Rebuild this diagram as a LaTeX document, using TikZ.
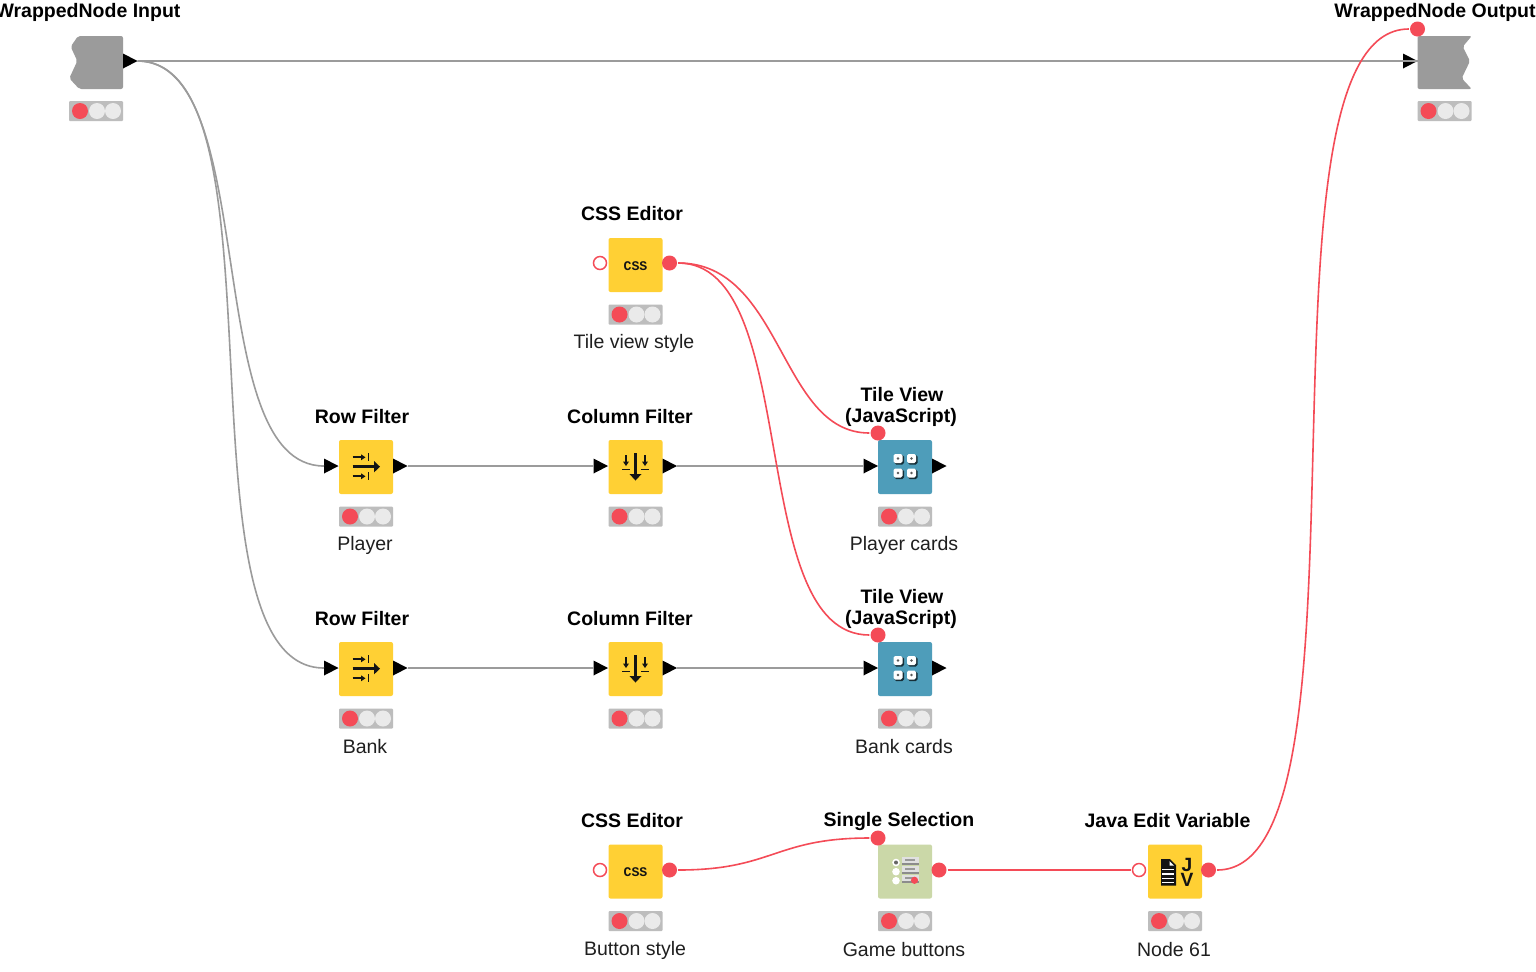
\documentclass[tikz,border=0pt]{standalone}
\usepackage{fontspec}
\usetikzlibrary{calc}
\setmainfont{Liberation Sans}
\newfontfamily\iconfont{Liberation Mono}
\definecolor{kyellow}{HTML}{FFD034}
\definecolor{kteal}{HTML}{4E9DBA}
\definecolor{kgreen}{HTML}{CBD8A8}
\definecolor{kgray}{HTML}{9B9B9B}
\definecolor{kbar}{HTML}{BDBDBD}
\definecolor{kred}{HTML}{F44B57}
\definecolor{klight}{HTML}{EAEAEA}
\definecolor{kink}{HTML}{141414}
\tikzset{
  x=0.5pt, y=-0.5pt,
  bodybox/.style={rectangle, rounded corners=1pt, minimum width=27pt, minimum height=27pt, inner sep=0pt, outer sep=0pt},
  lightbar/.style={rectangle, fill=kbar, rounded corners=0.5pt, minimum width=27pt, minimum height=10pt, inner sep=0pt},
  lamp/.style={circle, minimum size=8pt, inner sep=0pt, fill=klight},
  redlamp/.style={lamp, fill=kred},
  title/.style={font=\fontsize{9.75pt}{11pt}\selectfont\bfseries, text=black, inner sep=0pt, align=center},
  caption/.style={font=\fontsize{9.75pt}{11pt}\selectfont, text=black!88, inner sep=0pt},
  varfull/.style={circle, fill=kred, minimum size=7.5pt, inner sep=0pt, outer sep=0.6pt},
  varopen/.style={circle, draw=kred, fill=white, line width=0.75pt, minimum size=6.5pt, inner sep=0pt, outer sep=0.6pt},
  dataline/.style={draw=kgray, line width=0.8pt},
  varline/.style={draw=kred, line width=0.8pt},
  glyph/.style={draw=kink, line width=0.85pt},
}
% Status lights under a node
\newcommand{\statuslights}[3]{%
  \node[lightbar] (#1-bar) at (#2,#3) {};
  \node[redlamp] at (#2-16,#3) {};
  \node[lamp] at (#2+1,#3) {};
  \node[lamp] at (#2+17,#3) {};
}
% Coloured node body with its status lights
\newcommand{\bodynode}[4]{%
  \node[bodybox, fill=#4] (#1) at (#2,#3) {};
  \statuslights{#1}{#2}{#3+49.5}
}
% Black data-port triangles; the named coordinate is where the connector attaches
\newcommand{\dataport}[3]{%
  \fill[black] (#2-14.5,#3-7.5) -- (#2,#3) -- (#2-14.5,#3+7.5) -- cycle;
  \coordinate (#1) at (#2,#3);
}
\newcommand{\dataportin}[3]{%
  \fill[black] (#2,#3-7.5) -- (#2+14.5,#3) -- (#2,#3+7.5) -- cycle;
  \coordinate (#1) at (#2,#3);
}
% Row filter glyph
\newcommand{\rowglyph}[2]{%
  \begin{scope}[shift={(#1,#2)}]
    \foreach \yy in {-9.7,9.3} {
      \draw[glyph] (-13.3,\yy) -- (-3,\yy);
      \fill[kink] (-5,\yy-3) -- (-0.5,\yy) -- (-5,\yy+3) -- cycle;
      \draw[glyph] (2.5,\yy-4) -- (2.5,\yy+4);
    }
    \draw[kink, line width=1.5pt] (-13.3,-0.3) -- (9,-0.3);
    \fill[kink] (8,-6) -- (14,-0.3) -- (8,5.4) -- cycle;
  \end{scope}
}
% Column filter glyph
\newcommand{\colglyph}[2]{%
  \begin{scope}[shift={(#1,#2)}]
    \foreach \xx in {-9.5,9.5} {
      \draw[glyph] (\xx,-12) -- (\xx,-4);
      \fill[kink] (\xx-3,-5.5) -- (\xx,-1) -- (\xx+3,-5.5) -- cycle;
      \draw[glyph] (\xx-4,2.5) -- (\xx+4,2.5);
    }
    \draw[kink, line width=1.5pt] (0,-14) -- (0,8);
    \fill[kink] (-6,7) -- (0,13.5) -- (6,7) -- cycle;
  \end{scope}
}
% Tile view glyph: four raised tiles
\newcommand{\tileglyph}[2]{%
  \begin{scope}[shift={(#1,#2)}]
    \foreach \xx in {-7,6.5} \foreach \yy in {-7.5,7} {
      \fill[black!70!kteal, rounded corners=0.8pt] (\xx-3.5,\yy-3.5) rectangle (\xx+6,\yy+6);
      \fill[white, rounded corners=0.8pt] (\xx-4.5,\yy-4.5) rectangle (\xx+4.5,\yy+4.5);
      \fill[black!65] (\xx,\yy) circle (1.3);
    }
  \end{scope}
}
% CSS editor glyph
\newcommand{\cssglyph}[3]{%
  \node[inner sep=0pt, font=\iconfont\fontsize{6.6pt}{7pt}\selectfont\bfseries, text=kink] (#1) at (#2,#3) {CSS};
}
% Single selection glyph
\newcommand{\selectglyph}[2]{%
  \begin{scope}[shift={(#1,#2)}]
    \foreach \yy in {-8.5,0.7,9.7} \fill[white] (-9,\yy) circle (3.8);
    \fill[black!60] (-9,-8.5) circle (2);
    \foreach \yy in {-14,-5,4} {
      \fill[black!12] (-3.5,\yy) rectangle (14,\yy+6);
      \fill[black!45] (-3.5,\yy+6) rectangle (14,\yy+7.6);
      \fill[black!40] (-0.5,\yy+1.5) rectangle (10,\yy+3.8);
    }
    \fill[kred] (9.5,9.3) circle (3.6);
  \end{scope}
}
% Java edit variable glyph: page with J and V
\newcommand{\javaglyph}[3]{%
  \begin{scope}[shift={(#2,#3)}]
    \fill[kink] (-14,-12.5) -- (-5,-12.5) -- (1,-6.5) -- (1,14) -- (-14,14) -- cycle;
    \fill[white] (-5.5,-10.5) -- (-1,-6) -- (-5.5,-6) -- cycle;
    \foreach \yy in {-2,2.5,7,11} \draw[white, line width=0.6pt] (-13,\yy) -- (-1,\yy);
  \end{scope}
  \node[inner sep=0pt, font=\fontsize{9.6pt}{10pt}\selectfont\bfseries, text=kink] (#1-j) at (#2+12,#3-6.3) {J};
  \node[inner sep=0pt, font=\fontsize{9.6pt}{10pt}\selectfont\bfseries, text=kink] (#1-v) at (#2+12,#3+8) {V};
}
\begin{document}
\begin{tikzpicture}
\useasboundingbox (0,0) rectangle (1536,971);
\fill[white] (0,0) rectangle (1536,971);

% Wrapped node boundary blocks
\fill[kgray, rounded corners=1pt] (78,36) -- (123,36) -- (123,89) -- (79.3,89) -- (69.3,78.3) -- (77.3,61) -- (70.7,46.7) -- cycle;
\statuslights{wrapin}{96}{111}
\fill[kgray, rounded corners=1pt] (1417.5,36) -- (1471.7,36) -- (1462.7,46.7) -- (1470,61) -- (1461.7,78.3) -- (1471.7,89) -- (1417.5,89) -- cycle;
\statuslights{wrapout}{1444.5}{111}
\dataport{inT}{137.5}{61}
\dataport{outB}{1417.5}{61}
\node[varfull] (outV) at (1417.5,29) {};

% Node bodies
\bodynode{cssA}{635.5}{265}{kyellow}
\bodynode{rowA}{366}{467}{kyellow}
\bodynode{colA}{635.5}{467}{kyellow}
\bodynode{tileA}{905}{467}{kteal}
\bodynode{rowB}{366}{669}{kyellow}
\bodynode{colB}{635.5}{669}{kyellow}
\bodynode{tileB}{905}{669}{kteal}
\bodynode{cssB}{635.5}{871.5}{kyellow}
\bodynode{sel}{905}{871.5}{kgreen}
\bodynode{java}{1175}{871.5}{kyellow}

% Node glyphs
\cssglyph{cssAg}{635.5}{266}
\cssglyph{cssBg}{635.5}{872.5}
\rowglyph{366}{467}
\rowglyph{366}{669}
\colglyph{635.5}{467}
\colglyph{635.5}{669}
\tileglyph{905}{466}
\tileglyph{905}{668}
\selectglyph{905}{871}
\javaglyph{javag}{1175}{871.5}

% Ports
\node[varopen] (cssAin) at (600,263) {};
\node[varfull] (cssAout) at (669.5,263) {};
\node[varopen] (cssBin) at (600,870) {};
\node[varfull] (cssBout) at (669.5,870) {};
\node[varfull] (tileAv) at (878,433) {};
\node[varfull] (tileBv) at (878,635) {};
\node[varfull] (selv) at (878,838) {};
\node[varfull] (selout) at (939,870) {};
\node[varopen] (javain) at (1139,870) {};
\node[varfull] (javaout) at (1208.5,870) {};
\dataportin{rowinA}{324}{466}
\dataportin{rowoutA}{393}{466}
\dataportin{colinA}{593.5}{466}
\dataportin{coloutA}{662.5}{466}
\dataportin{tileinA}{863.5}{466}
\dataportin{tileoutA}{932}{466}
\dataportin{rowinB}{324}{668}
\dataportin{rowoutB}{393}{668}
\dataportin{colinB}{593.5}{668}
\dataportin{coloutB}{662.5}{668}
\dataportin{tileinB}{863.5}{668}
\dataportin{tileoutB}{932}{668}

% Data connectors
\path[dataline] (inT) -- (outB);
\path[dataline] (inT) .. controls +(125,0) and +(-125,0) .. (rowinA);
\path[dataline] (inT) .. controls +(155,0) and +(-155,0) .. (rowinB);
\path[dataline] ($(rowoutA)+(14.5,0)$) -- (colinA);
\path[dataline] ($(coloutA)+(14.5,0)$) -- (tileinA);
\path[dataline] ($(rowoutB)+(14.5,0)$) -- (colinB);
\path[dataline] ($(coloutB)+(14.5,0)$) -- (tileinB);

% Flow variable connectors
\path[varline] (cssAout.east) .. controls +(105,0) and +(-90,0) .. (tileAv.west);
\path[varline] (cssAout.east) .. controls +(125,0) and +(-125,0) .. (tileBv.west);
\path[varline] (cssBout.east) .. controls +(95,0) and +(-95,0) .. (selv.west);
\path[varline] (selout.east) -- (javain.west);
\path[varline] (javaout.east) .. controls +(170,0) and +(-170,0) .. (outV.west);

% Titles
\node[title] (tWin) at (88,12) {WrappedNode Input};
\node[title] (tWout) at (1435,12) {WrappedNode Output};
\node[title] (tCssA) at (632,214) {CSS Editor};
\node[title] (tRowA) at (362,417) {Row Filter};
\node[title] (tColA) at (630,417) {Column Filter};
\node[title] (tTileA) at (902,395) {Tile View};
\node[title] (tTileA2) at (901,417) {(JavaScript)};
\node[title] (tRowB) at (362,619) {Row Filter};
\node[title] (tColB) at (630,619) {Column Filter};
\node[title] (tTileB) at (902,597) {Tile View};
\node[title] (tTileB2) at (901,619) {(JavaScript)};
\node[title] (tCssB) at (632,821) {CSS Editor};
\node[title] (tSel) at (899,821) {Single Selection};
\node[title] (tJava) at (1167.5,821) {Java Edit Variable};

% Captions
\node[caption] (cCssA) at (634,343) {Tile view style};
\node[caption] (cRowA) at (365,545) {Player};
\node[caption] (cTileA) at (904,545) {Player cards};
\node[caption] (cRowB) at (365,747) {Bank};
\node[caption] (cTileB) at (904,747) {Bank cards};
\node[caption] (cCssB) at (635,950) {Button style};
\node[caption] (cSel) at (904,950) {Game buttons};
\node[caption] (cJava) at (1174,950) {Node 61};
\end{tikzpicture}
\end{document}
